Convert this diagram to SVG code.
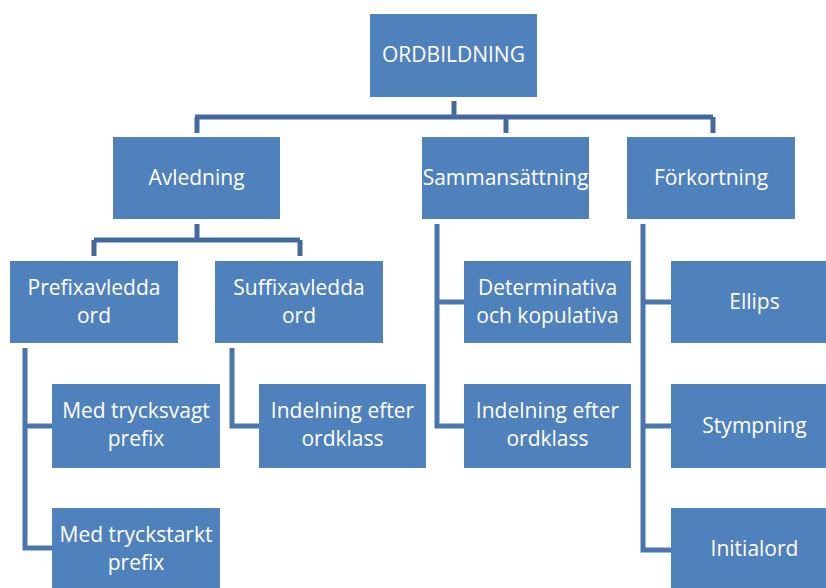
<svg xmlns="http://www.w3.org/2000/svg" width="826" height="588" viewBox="0 0 826 588">
<style>
.box{fill:#4F81BD}
.t{fill:#FFFFFF;font-family:"Open Sans","Noto Sans",sans-serif;font-size:21px;text-anchor:middle}
.c{fill:none;stroke:#44699C;stroke-width:5}
.c2{fill:none;stroke:#4A76AE;stroke-width:5}
</style>
<rect width="826" height="588" fill="#FFFFFF"/>
<g id="connectors">
<path class="c" d="M454,101 V117 M195,117 H713 M197,117 V133 M506,117 V133 M713,117 V133"/>
<path class="c" d="M197,224 V240 M94,240 H300 M94,240 V256 M300,240 V256"/>
<path class="c2" d="M25,348 V548 H52 M25,426 H52"/>
<path class="c2" d="M232,348 V426 H259"/>
<path class="c2" d="M437,224 V426 H464 M437,302 H464"/>
<path class="c2" d="M643,224 V550 H671 M643,302 H671 M643,426 H671"/>
</g>
<g id="ordbildning"><rect class="box" x="370" y="14" width="167" height="83"/><text class="t" x="453.5" y="62">ORDBILDNING</text></g>
<g id="avledning"><rect class="box" x="113" y="137" width="167" height="82"/><text class="t" x="196.5" y="185">Avledning</text></g>
<g id="sammansattning"><rect class="box" x="422" y="137" width="167" height="82"/><text class="t" x="505.5" y="185">Sammansättning</text></g>
<g id="forkortning"><rect class="box" x="627" y="137" width="168" height="82"/><text class="t" x="711" y="185">Förkortning</text></g>
<g id="prefixavledda"><rect class="box" x="10" y="261" width="168" height="82"/><text class="t" x="94" y="295">Prefixavledda</text><text class="t" x="94" y="323">ord</text></g>
<g id="suffixavledda"><rect class="box" x="215" y="261" width="168" height="82"/><text class="t" x="299" y="295">Suffixavledda</text><text class="t" x="299" y="323">ord</text></g>
<g id="trycksvagt"><rect class="box" x="52" y="384" width="168" height="84"/><text class="t" x="136" y="418">Med trycksvagt</text><text class="t" x="136" y="446">prefix</text></g>
<g id="tryckstarkt"><rect class="box" x="52" y="508" width="168" height="84"/><text class="t" x="136" y="542">Med tryckstarkt</text><text class="t" x="136" y="570">prefix</text></g>
<g id="indelning1"><rect class="box" x="259" y="384" width="167" height="84"/><text class="t" x="342.5" y="418">Indelning efter</text><text class="t" x="342.5" y="446">ordklass</text></g>
<g id="determinativa"><rect class="box" x="464" y="261" width="167" height="82"/><text class="t" x="547.5" y="295">Determinativa</text><text class="t" x="547.5" y="323">och kopulativa</text></g>
<g id="indelning2"><rect class="box" x="464" y="384" width="167" height="84"/><text class="t" x="547.5" y="418">Indelning efter</text><text class="t" x="547.5" y="446">ordklass</text></g>
<g id="ellips"><rect class="box" x="671" y="261" width="167" height="82"/><text class="t" x="754.5" y="309">Ellips</text></g>
<g id="stympning"><rect class="box" x="671" y="384" width="167" height="84"/><text class="t" x="754.5" y="433">Stympning</text></g>
<g id="initialord"><rect class="box" x="671" y="508" width="167" height="84"/><text class="t" x="754.5" y="556">Initialord</text></g>
</svg>
